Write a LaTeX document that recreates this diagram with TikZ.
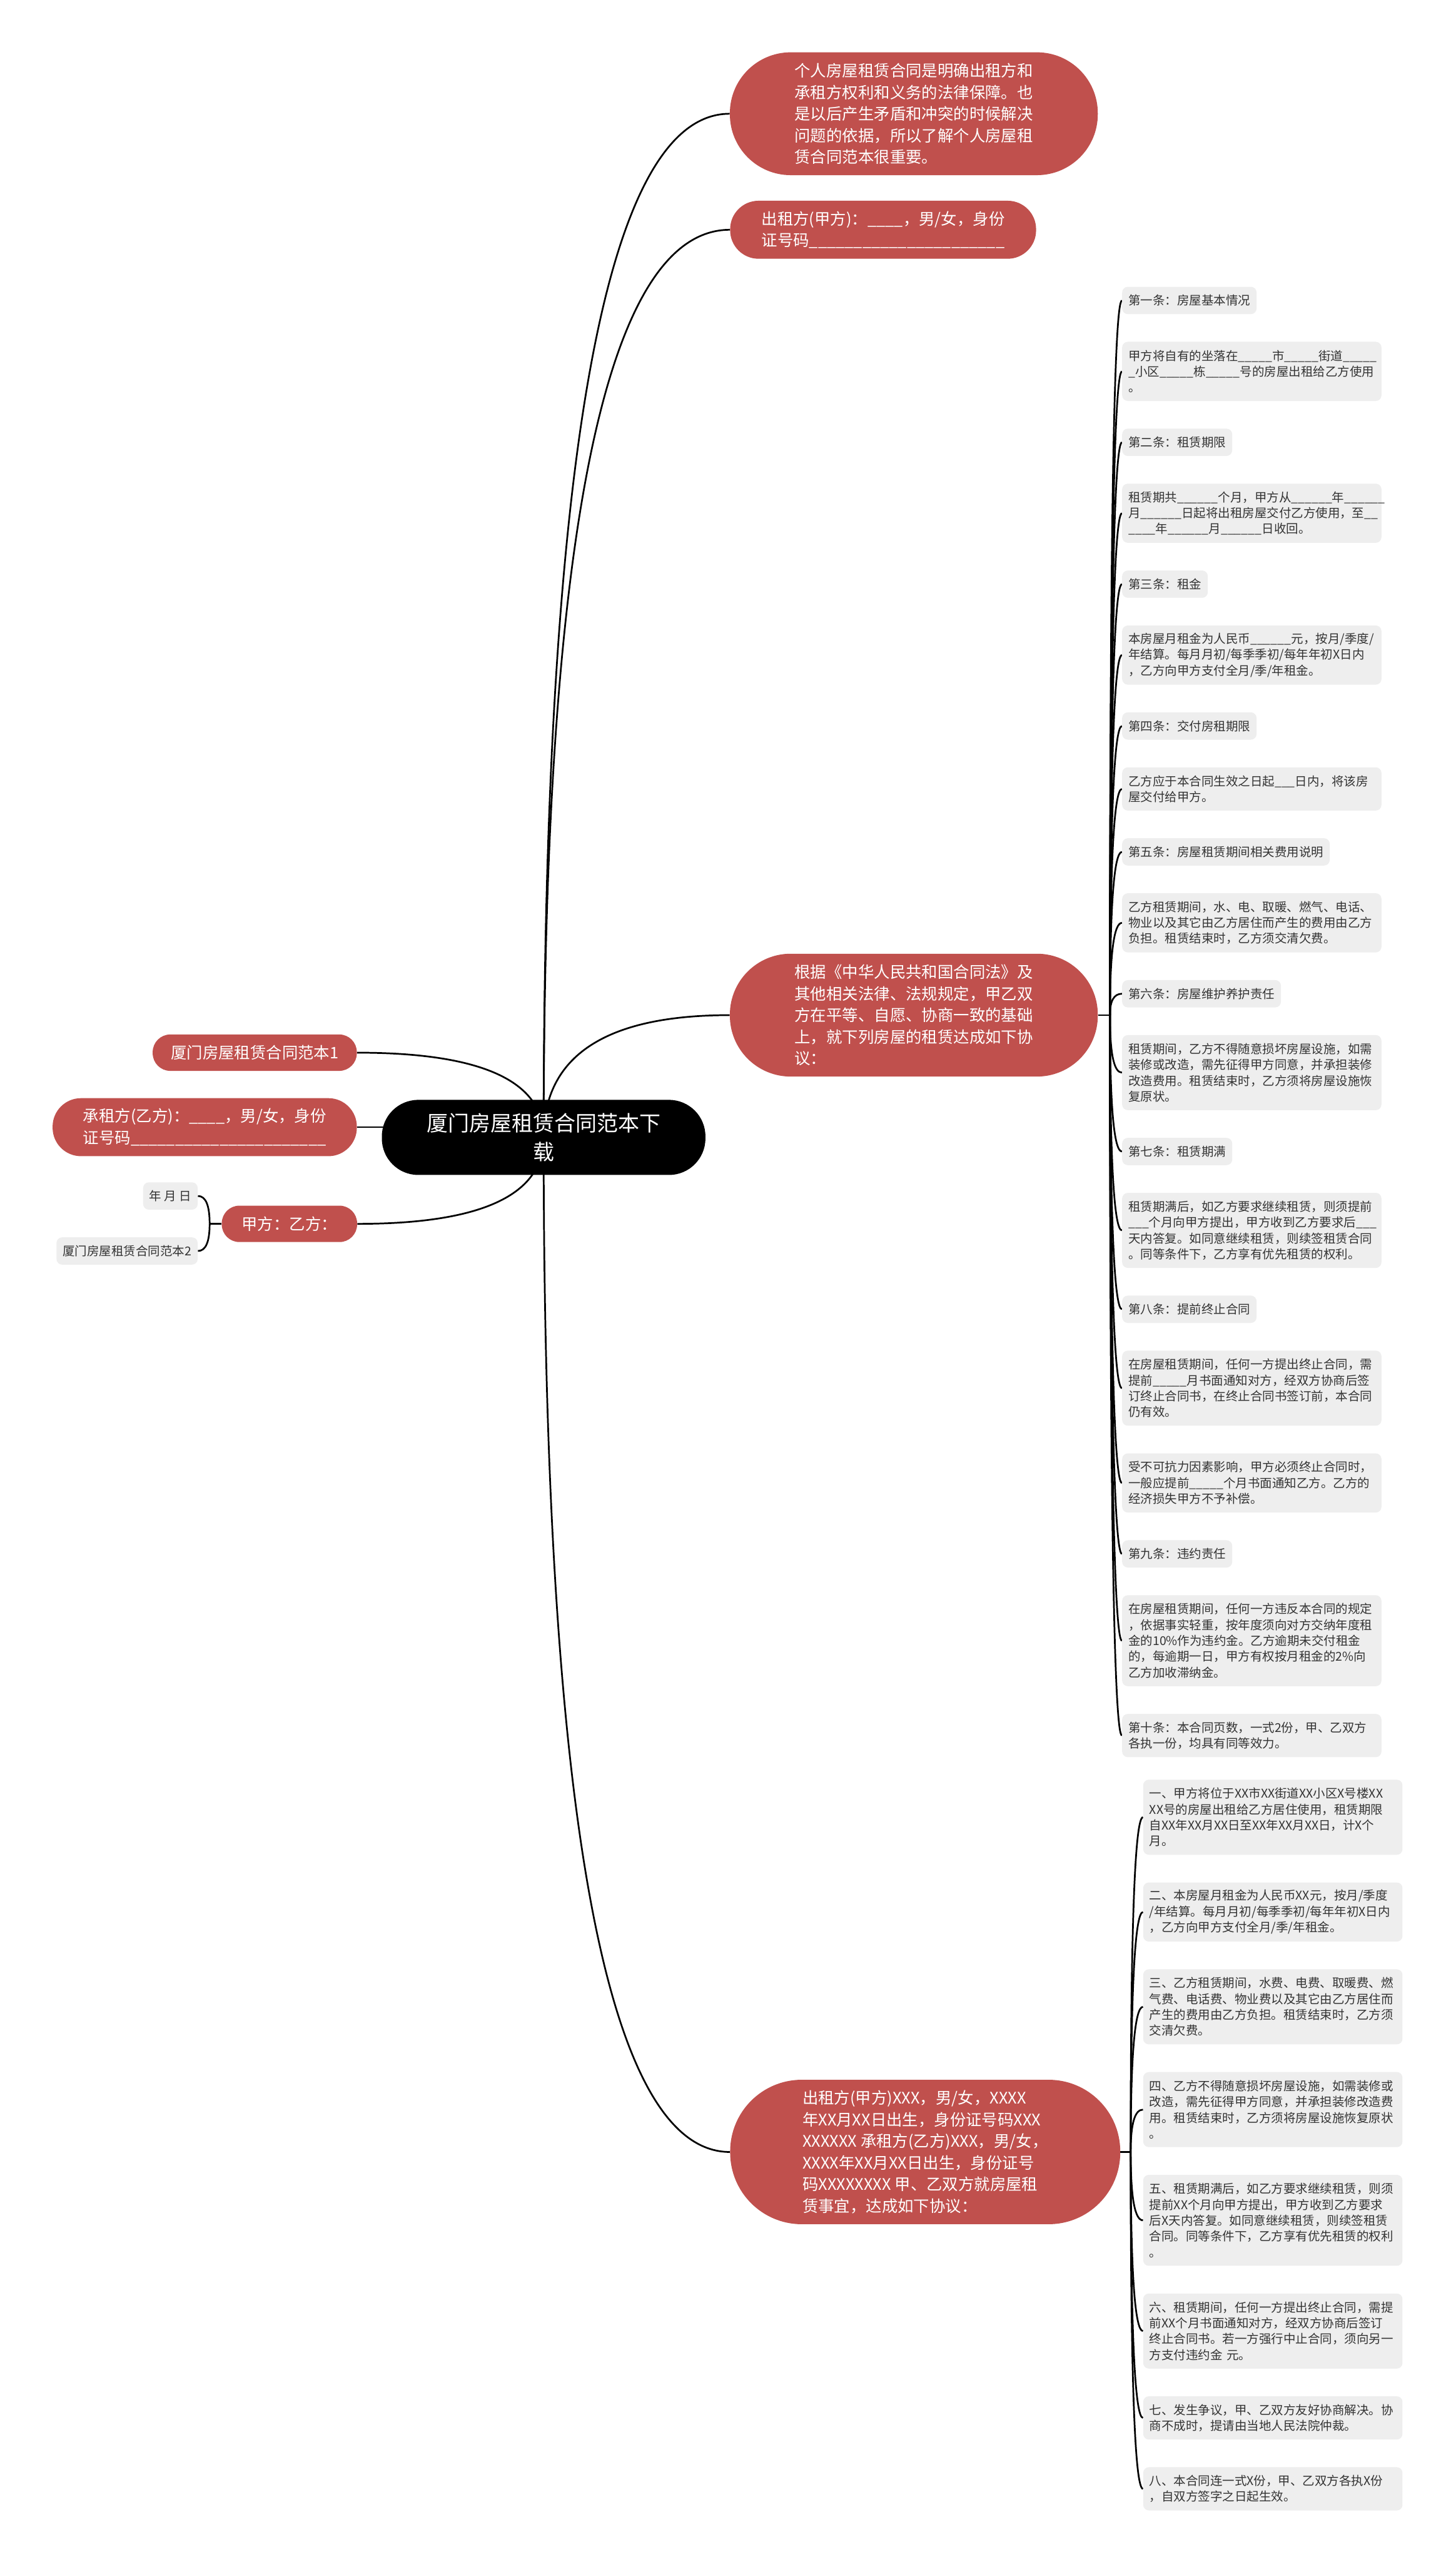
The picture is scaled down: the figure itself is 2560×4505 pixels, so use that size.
\documentclass[tikz,border=0pt]{standalone}
\usepackage{fontspec}
\newfontfamily\cjk{Noto Sans CJK SC}
\usetikzlibrary{positioning,calc,backgrounds}

\definecolor{brick}{RGB}{192,80,77}
\definecolor{paper}{RGB}{238,238,238}
\definecolor{ink}{RGB}{51,51,51}

\begin{document}
\begin{tikzpicture}[
    x=0.2mm, y=-0.2mm,
    limb/.style={to path={.. controls ($(\tikztostart)!.667!(\tikztostart |- \tikztotarget)$)
      and ($(\tikztotarget)!.667!(\tikztostart |- \tikztotarget)$) .. (\tikztotarget)}}
  ]
\def\px{0.2mm}
\def\gap{9.6mm}

\tikzstyle{topic}=[fill=black,text=white,align=center,inner sep=0pt,
  rounded corners=64*\px,minimum width=569*\px,minimum height=132*\px,
  font=\cjk\fontsize{21.3}{28.5}\selectfont]
\tikzstyle{pill}=[fill=brick,text=white,align=left,inner sep=0pt,
  font=\cjk\fontsize{15.9}{21.6}\selectfont]
\tikzstyle{leaf}=[fill=paper,text=ink,align=left,inner xsep=11*\px,inner ysep=4*\px,
  rounded corners=10*\px,font=\cjk\fontsize{12.2}{15.9}\selectfont]
\tikzstyle{wide}=[text width=434*\px]
\tikzstyle{link}=[draw=black,line width=3*\px]
\tikzset{
  bars/.style={minimum height=(38*#1+26)*\px,rounded corners=(19*#1+12)*\px},
  rows/.style={minimum height=(28*#1+20)*\px}
}

\begin{scope}[on background layer]
\fill[white] (0,0) rectangle (2560,4505);
\end{scope}
\useasboundingbox (0,0) rectangle (2560,4505);

% centre and main branches
\node[topic] (root) at (956,2000) {厦门房屋租赁合同范本下\\载};

\node[pill,bars=5,minimum width=647*\px] (intro) at (1607,200) {个人房屋租赁合同是明确出租方和\\承租方权利和义务的法律保障。也\\是以后产生矛盾和冲突的时候解决\\问题的依据，所以了解个人房屋租\\赁合同范本很重要。};
\node[pill,bars=2,minimum width=538*\px] (lessor) at (1553,404) {出租方(甲方)：\_\_\_\_，男/女，身份\\证号码\_\_\_\_\_\_\_\_\_\_\_\_\_\_\_\_\_\_\_\_\_\_};
\node[pill,bars=5,minimum width=647*\px] (basis) at (1607,1785) {根据《中华人民共和国合同法》及\\其他相关法律、法规规定，甲乙双\\方在平等、自愿、协商一致的基础\\上，就下列房屋的租赁达成如下协\\议：};
\node[pill,bars=6,minimum width=686*\px] (parties) at (1627,3784) {出租方(甲方)XXX，男/女，XXXX\\年XX月XX日出生，身份证号码XXX\\XXXXXX 承租方(乙方)XXX，男/女，\\XXXX年XX月XX日出生，身份证号\\码XXXXXXXX 甲、乙双方就房屋租\\赁事宜，达成如下协议：};

\node[pill,bars=1,minimum width=359*\px] (tpl1) at (448,1851) {厦门房屋租赁合同范本1};
\node[pill,bars=2,minimum width=535*\px] (lessee) at (360,1982) {承租方(乙方)：\_\_\_\_，男/女，身份\\证号码\_\_\_\_\_\_\_\_\_\_\_\_\_\_\_\_\_\_\_\_\_\_};
\node[pill,bars=1,minimum width=238*\px] (sign) at (509,2152) {甲方：乙方：};
\node[leaf,rows=1,anchor=east] (date) at (348,2103) {年 月 日};
\node[leaf,rows=1,below left=\gap and 0mm of date.south east] (tpl2) {厦门房屋租赁合同范本2};

% clauses under the basis node
\node[leaf,rows=1,anchor=north west] (c1) at (1973,504) {第一条：房屋基本情况};
\node[leaf,wide,rows=3,below right=\gap and 0mm of c1.south west] (c2) {甲方将自有的坐落在\_\_\_\_\_市\_\_\_\_\_街道\_\_\_\_\_\\\_小区\_\_\_\_\_栋\_\_\_\_\_号的房屋出租给乙方使用\\。};
\node[leaf,rows=1,below right=\gap and 0mm of c2.south west] (c3) {第二条：租赁期限};
\node[leaf,wide,rows=3,below right=\gap and 0mm of c3.south west] (c4) {租赁期共\_\_\_\_\_\_个月，甲方从\_\_\_\_\_\_年\_\_\_\_\_\_\\月\_\_\_\_\_\_日起将出租房屋交付乙方使用，至\_\_\\\_\_\_\_年\_\_\_\_\_\_月\_\_\_\_\_\_日收回。};
\node[leaf,rows=1,below right=\gap and 0mm of c4.south west] (c5) {第三条：租金};
\node[leaf,wide,rows=3,below right=\gap and 0mm of c5.south west] (c6) {本房屋月租金为人民币\_\_\_\_\_\_元，按月/季度/\\年结算。每月月初/每季季初/每年年初X日内\\，乙方向甲方支付全月/季/年租金。};
\node[leaf,rows=1,below right=\gap and 0mm of c6.south west] (c7) {第四条：交付房租期限};
\node[leaf,wide,rows=2,below right=\gap and 0mm of c7.south west] (c8) {乙方应于本合同生效之日起\_\_\_日内，将该房\\屋交付给甲方。};
\node[leaf,rows=1,below right=\gap and 0mm of c8.south west] (c9) {第五条：房屋租赁期间相关费用说明};
\node[leaf,wide,rows=3,below right=\gap and 0mm of c9.south west] (c10) {乙方租赁期间，水、电、取暖、燃气、电话、\\物业以及其它由乙方居住而产生的费用由乙方\\负担。租赁结束时，乙方须交清欠费。};
\node[leaf,rows=1,below right=\gap and 0mm of c10.south west] (c11) {第六条：房屋维护养护责任};
\node[leaf,wide,rows=4,below right=\gap and 0mm of c11.south west] (c12) {租赁期间，乙方不得随意损坏房屋设施，如需\\装修或改造，需先征得甲方同意，并承担装修\\改造费用。租赁结束时，乙方须将房屋设施恢\\复原状。};
\node[leaf,rows=1,below right=\gap and 0mm of c12.south west] (c13) {第七条：租赁期满};
\node[leaf,wide,rows=4,below right=\gap and 0mm of c13.south west] (c14) {租赁期满后，如乙方要求继续租赁，则须提前\\\_\_\_个月向甲方提出，甲方收到乙方要求后\_\_\_\\天内答复。如同意继续租赁，则续签租赁合同\\。同等条件下，乙方享有优先租赁的权利。};
\node[leaf,rows=1,below right=\gap and 0mm of c14.south west] (c15) {第八条：提前终止合同};
\node[leaf,wide,rows=4,below right=\gap and 0mm of c15.south west] (c16) {在房屋租赁期间，任何一方提出终止合同，需\\提前\_\_\_\_\_月书面通知对方，经双方协商后签\\订终止合同书，在终止合同书签订前，本合同\\仍有效。};
\node[leaf,wide,rows=3,below right=\gap and 0mm of c16.south west] (c17) {受不可抗力因素影响，甲方必须终止合同时，\\一般应提前\_\_\_\_\_个月书面通知乙方。乙方的\\经济损失甲方不予补偿。};
\node[leaf,rows=1,below right=\gap and 0mm of c17.south west] (c18) {第九条：违约责任};
\node[leaf,wide,rows=5,below right=\gap and 0mm of c18.south west] (c19) {在房屋租赁期间，任何一方违反本合同的规定\\，依据事实轻重，按年度须向对方交纳年度租\\金的10\%作为违约金。乙方逾期未交付租金\\的，每逾期一日，甲方有权按月租金的2\%向\\乙方加收滞纳金。};
\node[leaf,wide,rows=2,below right=\gap and 0mm of c19.south west] (c20) {第十条：本合同页数，一式2份，甲、乙双方\\各执一份，均具有同等效力。};

% clauses under the parties node
\node[leaf,wide,rows=4,anchor=north west] (d1) at (2010,3129) {一、甲方将位于XX市XX街道XX小区X号楼XX\\XX号的房屋出租给乙方居住使用，租赁期限\\自XX年XX月XX日至XX年XX月XX日，计X个\\月。};
\node[leaf,wide,rows=3,below right=\gap and 0mm of d1.south west] (d2) {二、本房屋月租金为人民币XX元，按月/季度\\/年结算。每月月初/每季季初/每年年初X日内\\，乙方向甲方支付全月/季/年租金。};
\node[leaf,wide,rows=4,below right=\gap and 0mm of d2.south west] (d3) {三、乙方租赁期间，水费、电费、取暖费、燃\\气费、电话费、物业费以及其它由乙方居住而\\产生的费用由乙方负担。租赁结束时，乙方须\\交清欠费。};
\node[leaf,wide,rows=4,below right=\gap and 0mm of d3.south west] (d4) {四、乙方不得随意损坏房屋设施，如需装修或\\改造，需先征得甲方同意，并承担装修改造费\\用。租赁结束时，乙方须将房屋设施恢复原状\\。};
\node[leaf,wide,rows=5,below right=\gap and 0mm of d4.south west] (d5) {五、租赁期满后，如乙方要求继续租赁，则须\\提前XX个月向甲方提出，甲方收到乙方要求\\后X天内答复。如同意继续租赁，则续签租赁\\合同。同等条件下，乙方享有优先租赁的权利\\。};
\node[leaf,wide,rows=4,below right=\gap and 0mm of d5.south west] (d6) {六、租赁期间，任何一方提出终止合同，需提\\前XX个月书面通知对方，经双方协商后签订\\终止合同书。若一方强行中止合同，须向另一\\方支付违约金 元。};
\node[leaf,wide,rows=2,below right=\gap and 0mm of d6.south west] (d7) {七、发生争议，甲、乙双方友好协商解决。协\\商不成时，提请由当地人民法院仲裁。};
\node[leaf,wide,rows=2,below right=\gap and 0mm of d7.south west] (d8) {八、本合同连一式X份，甲、乙双方各执X份\\，自双方签字之日起生效。};

\coordinate (cbr) at ($(basis.east)+(21,0)$);
\coordinate (dbr) at ($(parties.east)+(18,0)$);
\coordinate (sbr) at ($(sign.west)-(21,0)$);

\begin{scope}[on background layer]
\draw[link] (root.center) to[limb] (intro.west);
\draw[link] (root.center) to[limb] (lessor.west);
\draw[link] (root.center) to[limb] (basis.west);
\draw[link] (root.center) to[limb] (parties.west);
\draw[link] (root.center) to[limb] (tpl1.east);
\draw[link] (lessee.east) -- (lessee.east -| root.center);
\draw[link] (root.center) to[limb] (sign.east);

\draw[link] (sign.west) -- (sbr);
\draw[link] (sbr) to[limb] (date.east);
\draw[link] (sbr) to[limb] (tpl2.east);

\draw[link] (basis.east) -- (cbr);
\draw[link] (cbr) to[limb] (c1.west);
\draw[link] (cbr) to[limb] (c2.west);
\draw[link] (cbr) to[limb] (c3.west);
\draw[link] (cbr) to[limb] (c4.west);
\draw[link] (cbr) to[limb] (c5.west);
\draw[link] (cbr) to[limb] (c6.west);
\draw[link] (cbr) to[limb] (c7.west);
\draw[link] (cbr) to[limb] (c8.west);
\draw[link] (cbr) to[limb] (c9.west);
\draw[link] (cbr) to[limb] (c10.west);
\draw[link] (cbr) to[limb] (c11.west);
\draw[link] (cbr) to[limb] (c12.west);
\draw[link] (cbr) to[limb] (c13.west);
\draw[link] (cbr) to[limb] (c14.west);
\draw[link] (cbr) to[limb] (c15.west);
\draw[link] (cbr) to[limb] (c16.west);
\draw[link] (cbr) to[limb] (c17.west);
\draw[link] (cbr) to[limb] (c18.west);
\draw[link] (cbr) to[limb] (c19.west);
\draw[link] (cbr) to[limb] (c20.west);

\draw[link] (parties.east) -- (dbr);
\draw[link] (dbr) to[limb] (d1.west);
\draw[link] (dbr) to[limb] (d2.west);
\draw[link] (dbr) to[limb] (d3.west);
\draw[link] (dbr) to[limb] (d4.west);
\draw[link] (dbr) to[limb] (d5.west);
\draw[link] (dbr) to[limb] (d6.west);
\draw[link] (dbr) to[limb] (d7.west);
\draw[link] (dbr) to[limb] (d8.west);
\end{scope}

\end{tikzpicture}
\end{document}
